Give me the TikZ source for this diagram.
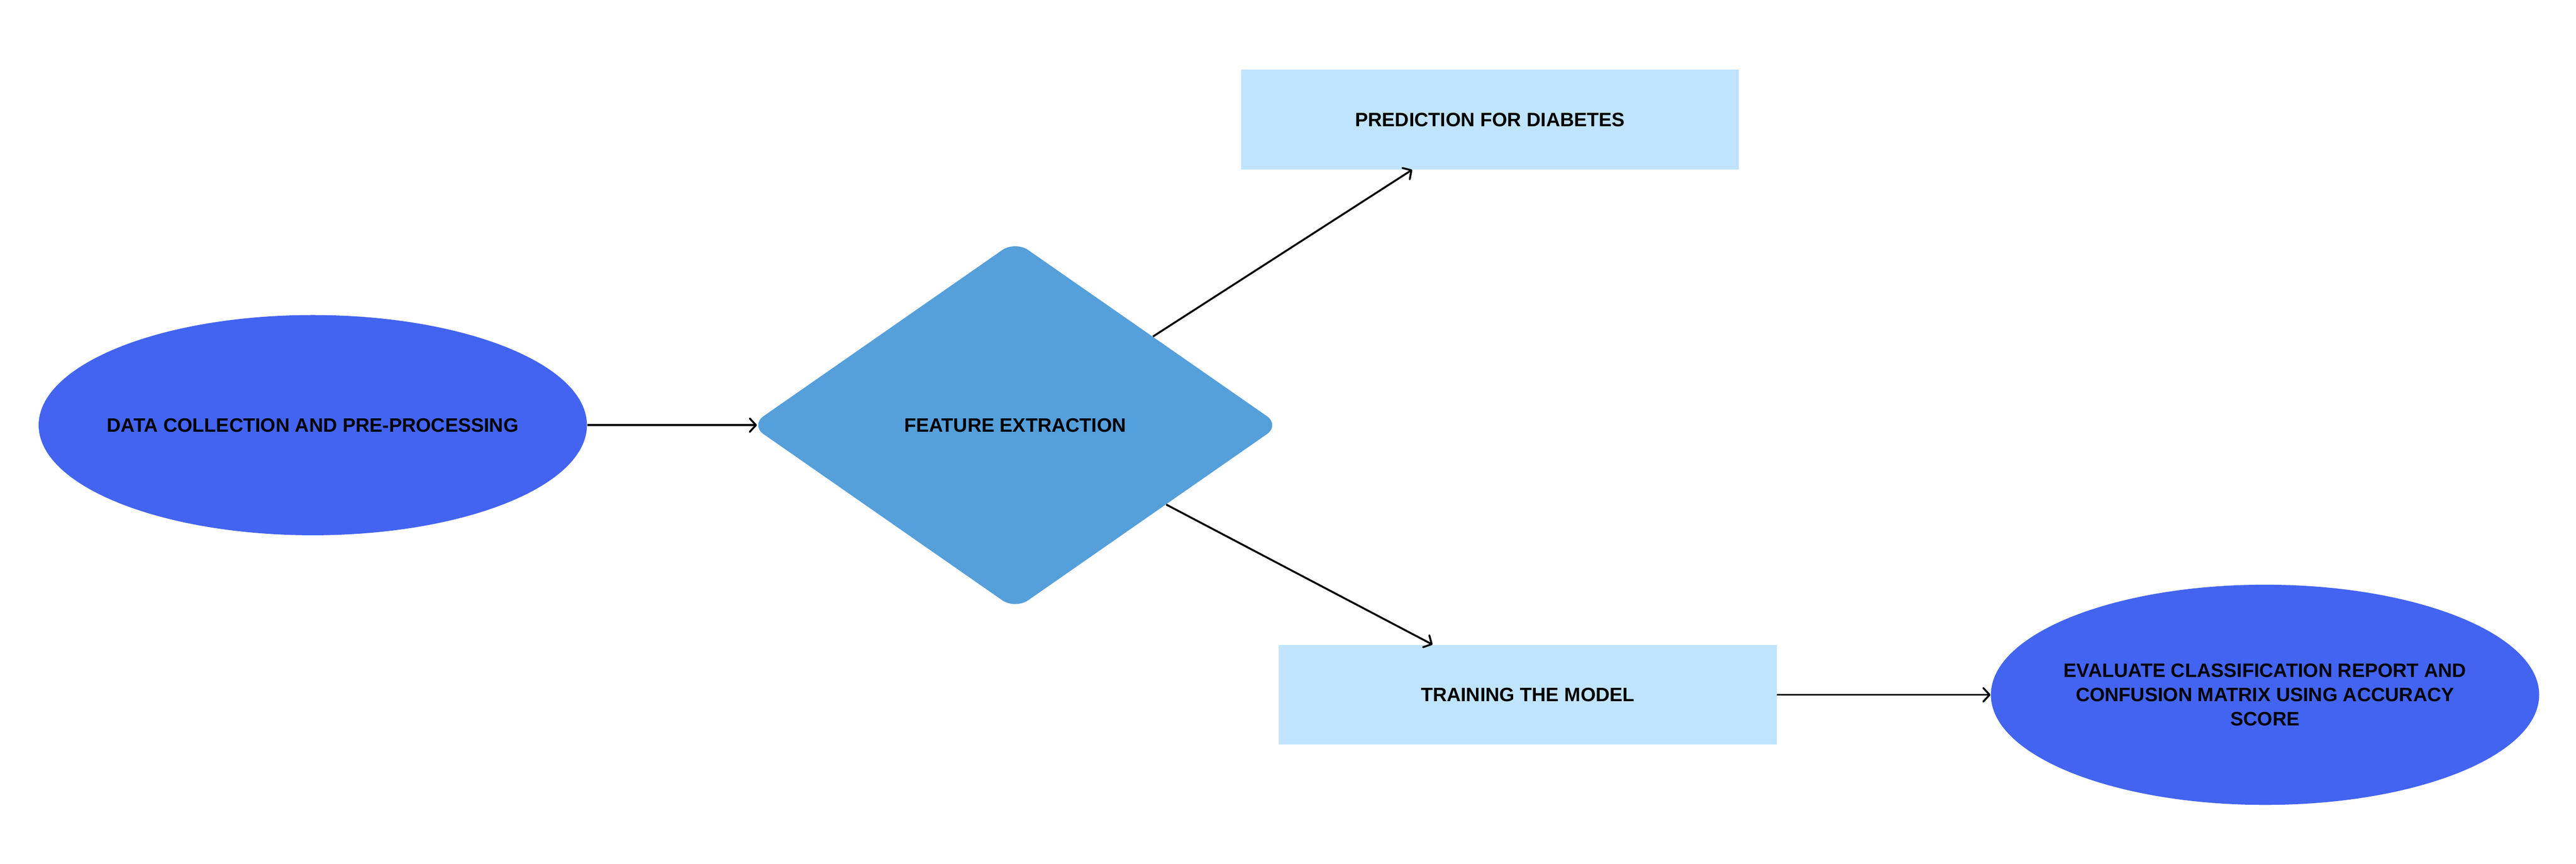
\documentclass[tikz,border=0pt]{standalone}
\usepackage{fontspec}
\setmainfont{Liberation Sans}
\usepackage{tikz}
\usetikzlibrary{shapes,arrows,arrows.meta,positioning,calc}

\definecolor{royal}{HTML}{4364F1}
\definecolor{steel}{HTML}{559FDB}
\definecolor{pale}{HTML}{C0E4FD}

\begin{document}
\begin{tikzpicture}[
    oval/.style={ellipse, fill=royal, minimum width=12.2cm, minimum height=4.9cm, align=center, inner xsep=-2cm, inner ysep=0pt},
    decide/.style={diamond, fill=steel, minimum width=11.78cm, minimum height=8.2cm, rounded corners=0.35cm, align=center},
    box/.style={rectangle, fill=pale, minimum width=11.08cm, minimum height=2.22cm, align=center},
    arrow/.style={-{Straight Barb[length=1.4mm, width=3mm, round]}, line width=1.2pt},
    txt/.style={font=\fontsize{12.3}{15.4}\selectfont\bfseries}
]

% Page frame
\useasboundingbox (0,0) rectangle (57.32,-19.22);

% Start
\node[oval, txt] (data) at (6.96, -9.46) {DATA COLLECTION AND PRE-PROCESSING};

% Decision
\node[decide, txt] (feat) at (22.59, -9.46) {FEATURE EXTRACTION};

% Two branches
\node[box, txt] (pred) at (33.155, -2.66) {PREDICTION FOR DIABETES};
\node[box, txt] (train) at (33.995, -15.46) {TRAINING THE MODEL};

% End
\node[oval, txt] (eval) at (50.40, -15.46) {EVALUATE CLASSIFICATION REPORT AND\\
    CONFUSION MATRIX USING ACCURACY\\
    SCORE};

% Connectors
\draw[arrow, shorten >=-0.15cm] (data) -- (feat);
\draw[arrow] (feat) -- (pred);
\draw[arrow] (feat) -- (train);
\draw[arrow] (train) -- (eval);

\end{tikzpicture}
\end{document}
